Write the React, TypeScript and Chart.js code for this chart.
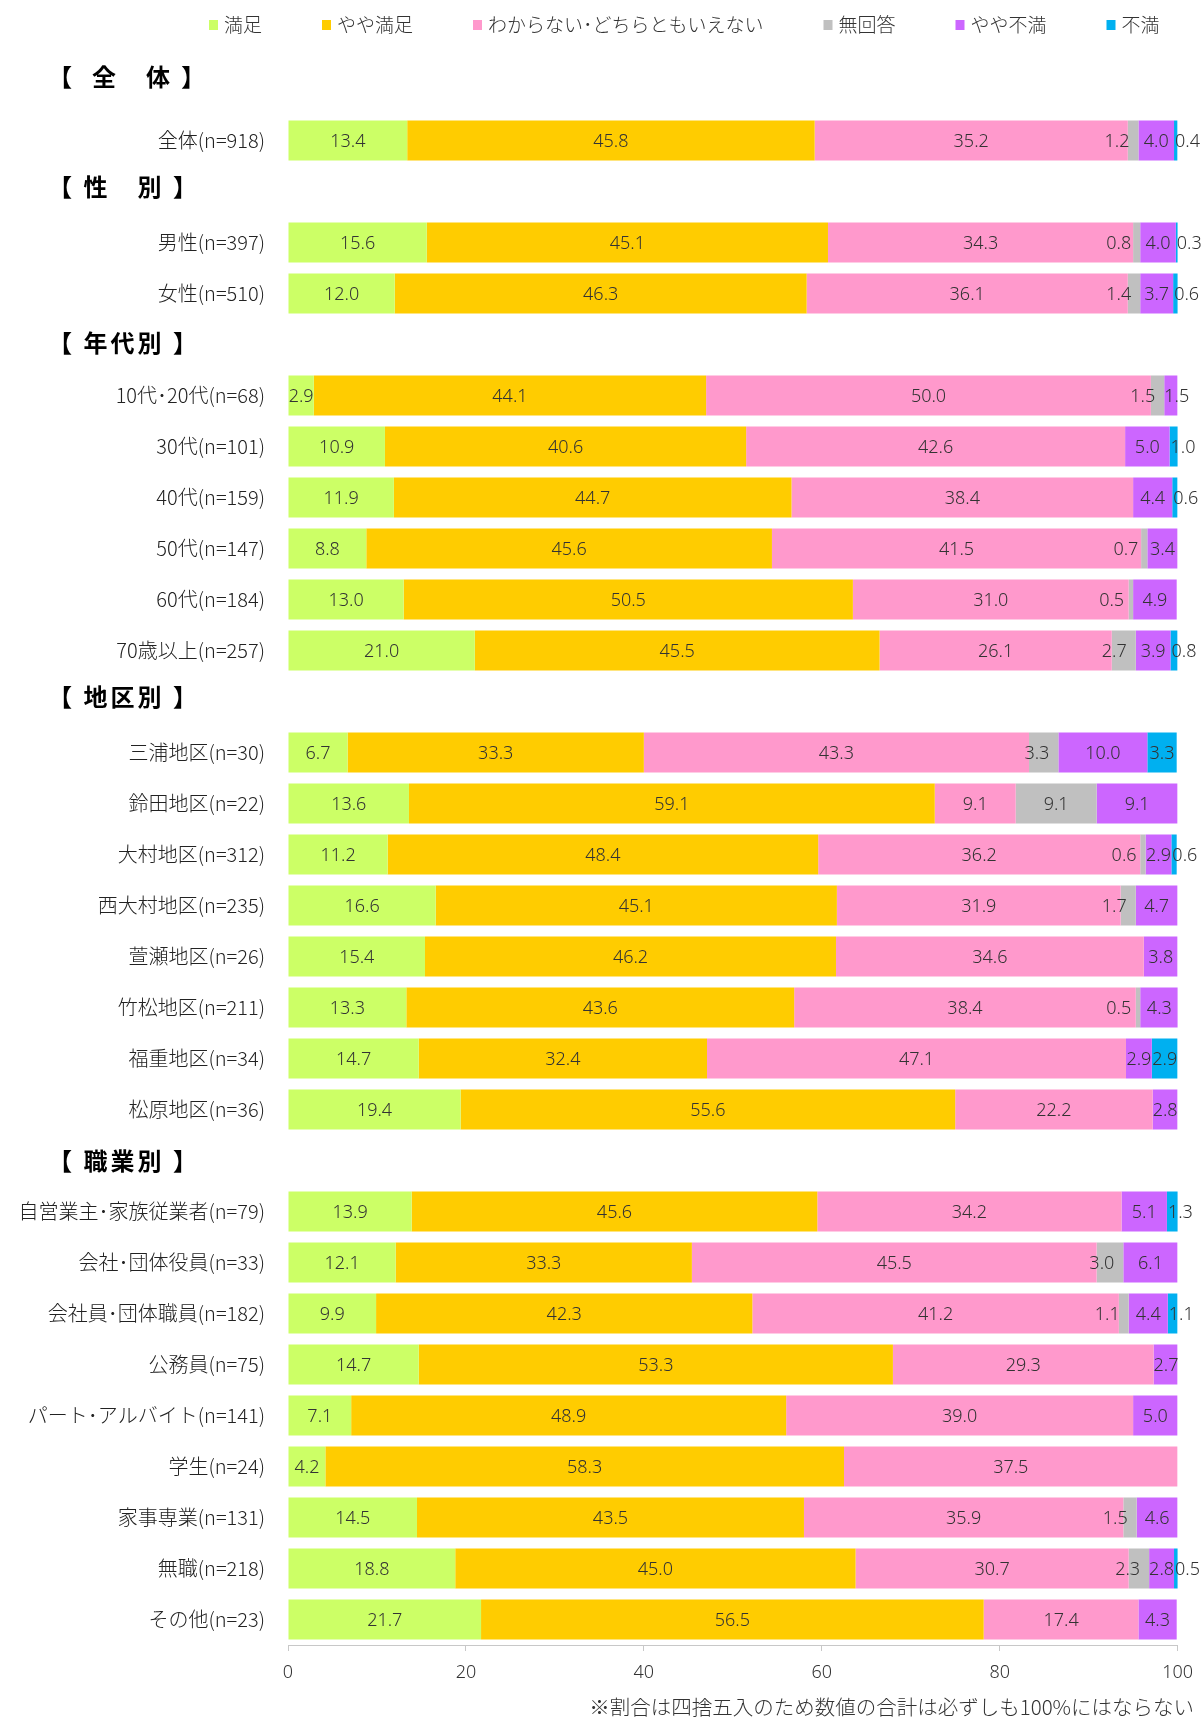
import React, { useEffect, useRef } from 'react';
import { Chart, registerables } from 'chart.js';

Chart.register(...registerables);

// ---- data ----
const rowLabels = [
  '', '全体(n=918)',
  '', '男性(n=397)', '女性(n=510)',
  '', '10代･20代(n=68)', '30代(n=101)', '40代(n=159)', '50代(n=147)', '60代(n=184)', '70歳以上(n=257)',
  '', '三浦地区(n=30)', '鈴田地区(n=22)', '大村地区(n=312)', '西大村地区(n=235)', '萱瀬地区(n=26)', '竹松地区(n=211)', '福重地区(n=34)', '松原地区(n=36)',
  '', '自営業主･家族従業者(n=79)', '会社･団体役員(n=33)', '会社員･団体職員(n=182)', '公務員(n=75)', 'パート･アルバイト(n=141)', '学生(n=24)', '家事専業(n=131)', '無職(n=218)', 'その他(n=23)',
];
const sectionHeaders = ['【  全　体 】', '【 性　別 】', '【 年代別 】', '【 地区別 】', '【 職業別 】'];
const seriesNames = ['満足', 'やや満足', 'わからない･どちらともいえない', '無回答', 'やや不満', '不満'];

const manzoku = [null, 13.4, null, 15.6, 12.0, null, 2.9, 10.9, 11.9, 8.8, 13.0, 21.0, null, 6.7, 13.6, 11.2, 16.6, 15.4, 13.3, 14.7, 19.4, null, 13.9, 12.1, 9.9, 14.7, 7.1, 4.2, 14.5, 18.8, 21.7];
const yayaManzoku = [null, 45.8, null, 45.1, 46.3, null, 44.1, 40.6, 44.7, 45.6, 50.5, 45.5, null, 33.3, 59.1, 48.4, 45.1, 46.2, 43.6, 32.4, 55.6, null, 45.6, 33.3, 42.3, 53.3, 48.9, 58.3, 43.5, 45.0, 56.5];
const wakaranai = [null, 35.2, null, 34.3, 36.1, null, 50.0, 42.6, 38.4, 41.5, 31.0, 26.1, null, 43.3, 9.1, 36.2, 31.9, 34.6, 38.4, 47.1, 22.2, null, 34.2, 45.5, 41.2, 29.3, 39.0, 37.5, 35.9, 30.7, 17.4];
const mukaitou = [null, 1.2, null, 0.8, 1.4, null, 1.5, 0, 0, 0.7, 0.5, 2.7, null, 3.3, 9.1, 0.6, 1.7, 0, 0.5, 0, 0, null, 0, 3.0, 1.1, 0, 0, 0, 1.5, 2.3, 0];
const yayaFuman = [null, 4.0, null, 4.0, 3.7, null, 1.5, 5.0, 4.4, 3.4, 4.9, 3.9, null, 10.0, 9.1, 2.9, 4.7, 3.8, 4.3, 2.9, 2.8, null, 5.1, 6.1, 4.4, 2.7, 5.0, 0, 4.6, 2.8, 4.3];
const fuman = [null, 0.4, null, 0.3, 0.6, null, 0, 1.0, 0.6, 0, 0, 0.8, null, 3.3, 0, 0.6, 0, 0, 0, 2.9, 0, null, 1.3, 0, 1.1, 0, 0, 0, 0, 0.5, 0];

const xMin = 0;
const xMax = 100;
const xStep = 20;
const footnote = '※割合は四捨五入のため数値の合計は必ずしも100%にはならない';

// ---- styles ----
const seriesColors = ['#CCFF66', '#FFCC00', '#FF99CC', '#C0C0C0', '#CC66FF', '#00B0F0'];
const CJK = '"Noto Sans CJK JP", "Noto Sans", sans-serif';
const LATIN = '"Noto Sans", "Noto Sans CJK JP", sans-serif';
const W = 1204;
const H = 1719;

const segLabelPlugin = {
  id: 'segLabels',
  afterDatasetsDraw(chart: any) {
    const ctx = chart.ctx;
    ctx.save();
    ctx.font = `300 18px ${LATIN}`;
    ctx.fillStyle = '#333333';
    ctx.textBaseline = 'middle';
    ctx.textAlign = 'center';
    chart.data.datasets.forEach((ds: any, di: number) => {
      const meta = chart.getDatasetMeta(di);
      meta.data.forEach((bar: any, i: number) => {
        const v = ds.data[i];
        if (v == null || v === 0) return;
        const p = bar.getProps(['x', 'y', 'base'], true);
        const left = Math.min(p.x, p.base);
        const right = Math.max(p.x, p.base);
        const w = right - left;
        const text = Number(v).toFixed(1);
        const tw = ctx.measureText(text).width;
        let cx = (left + right) / 2;
        if (di === 3 && w < tw + 8) cx = right - 9 - tw / 2;
        else if (di === 4 && w < tw) cx = left + tw / 2;
        else if (di === 5 && w < tw) cx = left + 1 + tw / 2;
        ctx.fillText(text, cx, p.y + 1);
      });
    });
    ctx.restore();
  },
};

const headerOffsets = [-13, -5, -2, -5, 0];

const decorPlugin = {
  id: 'decor',
  afterDraw(chart: any) {
    const ctx = chart.ctx;
    const yScale = chart.scales.y;
    ctx.save();
    // section headers
    ctx.font = `bold 24px ${CJK}`;
    ctx.fillStyle = '#000000';
    ctx.textBaseline = 'middle';
    ctx.textAlign = 'left';
    (ctx as any).letterSpacing = '3px';
    let h = 0;
    rowLabels.forEach((lab, i) => {
      if (lab === '' && h < sectionHeaders.length) {
        const y = yScale.getPixelForValue(i) + headerOffsets[h];
        ctx.fillText(sectionHeaders[h], 48, y);
        h++;
      }
    });
    (ctx as any).letterSpacing = '0px';
    // legend
    ctx.font = `300 19px ${CJK}`;
    let x = 209;
    seriesNames.forEach((name, i) => {
      ctx.fillStyle = seriesColors[i];
      ctx.fillRect(x, 20, 9, 10);
      ctx.fillStyle = '#333333';
      ctx.fillText(name, x + 15, 25);
      x += 15 + ctx.measureText(name).width + 60;
    });
    // footnote
    ctx.font = `300 20.5px ${CJK}`;
    ctx.textAlign = 'right';
    ctx.fillStyle = '#333333';
    ctx.fillText(footnote, 1194, 1707);
    ctx.restore();
  },
};

export default function App() {
  const ref = useRef<HTMLCanvasElement | null>(null);

  useEffect(() => {
    document.body.style.margin = '0';
    const canvas = ref.current;
    if (!canvas) return;
    const data = [manzoku, yayaManzoku, wakaranai, mukaitou, yayaFuman, fuman];
    const chart = new Chart(canvas, {
      type: 'bar',
      data: {
        labels: rowLabels,
        datasets: seriesNames.map((name, i) => ({
          label: name,
          data: data[i] as any,
          backgroundColor: seriesColors[i],
          borderWidth: 0,
          barPercentage: 0.78,
          categoryPercentage: 1,
        })),
      },
      options: {
        indexAxis: 'y',
        responsive: false,
        animation: false,
        devicePixelRatio: 1,
        layout: { padding: { top: 64, right: 25, bottom: 0, left: 0 } },
        plugins: {
          legend: { display: false },
          tooltip: { enabled: false },
          title: { display: false },
        },
        scales: {
          x: {
            stacked: true,
            min: xMin,
            max: xMax,
            position: 'bottom',
            ticks: {
              stepSize: xStep,
              color: '#333333',
              font: { family: LATIN, size: 18, weight: '300' as any },
              padding: 11,
              maxRotation: 0,
            },
            grid: {
              display: true,
              drawOnChartArea: false,
              drawTicks: true,
              tickLength: 6,
              color: '#C8C8C8',
            },
            border: { display: true, color: '#C8C8C8', width: 1 },
            afterFit(scale: any) {
              scale.height = 74;
            },
          },
          y: {
            stacked: true,
            ticks: {
              color: '#222222',
              font: { family: CJK, size: 20, weight: '300' as any },
              padding: 23,
              autoSkip: false,
            },
            grid: { display: false, drawTicks: false },
            border: { display: false },
            afterFit(scale: any) {
              scale.width = 288;
            },
          },
        },
      },
      plugins: [segLabelPlugin, decorPlugin],
    });
    return () => chart.destroy();
  }, []);

  return (
    <div style={{ position: 'absolute', left: 0, top: 0, width: W, height: H, background: '#ffffff' }}>
      <canvas ref={ref} width={W} height={H} style={{ width: W, height: H, display: 'block' }} />
    </div>
  );
}
